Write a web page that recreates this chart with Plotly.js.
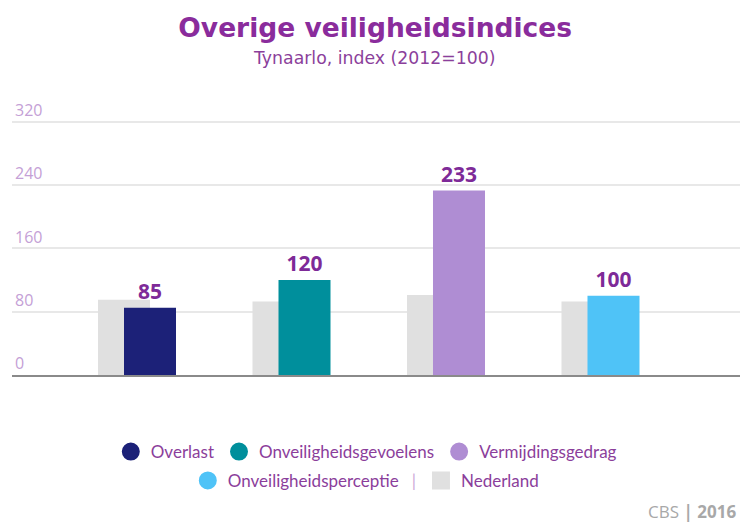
<!DOCTYPE html>
<html>
<head>
<meta charset="utf-8">
<script src="https://cdn.plot.ly/plotly-3.0.1.min.js"></script>
<style>html,body{margin:0;padding:0;background:#fff;}</style>
</head>
<body>
<div id="chart" style="width:740px;height:525px;"></div>
<script>
// ---- data ----
var categories = ['Overlast', 'Onveiligheidsgevoelens', 'Vermijdingsgedrag', 'Onveiligheidsperceptie'];
var tynaarloValues = [85, 120, 233, 100];
var nederlandValues = [95, 93, 101, 93];
var seriesColors = ['#1c2178', '#008f9c', '#af8dd3', '#4fc3f7'];
var nederlandLabel = 'Nederland';
var yTicks = [0, 80, 160, 240, 320];

// ---- style ----
var purpleText = '#8b3e9b';
var labelPurple = '#7e2a98';
var barWidth = 0.3366;
var greyOffset = -0.2524;
var colorOffset = -0.0841;

var traces = [];
// Nederland (grey) bars behind
traces.push({
  type: 'bar',
  x: categories,
  y: nederlandValues,
  width: barWidth,
  offset: greyOffset,
  marker: {color: '#e0e0e0'},
  showlegend: false,
  hoverinfo: 'skip'
});
// Tynaarlo coloured bars
categories.forEach(function (c, i) {
  traces.push({
    type: 'bar',
    x: [c],
    y: [tynaarloValues[i]],
    width: barWidth,
    offset: colorOffset,
    marker: {color: seriesColors[i]},
    text: [String(tynaarloValues[i])],
    textposition: 'outside',
    textfont: {family: 'Open Sans', size: 21, color: labelPurple, weight: 'bold'},
    cliponaxis: false,
    showlegend: false,
    hoverinfo: 'skip'
  });
});
// Legend entries (circles / square)
categories.forEach(function (c, i) {
  var name = c;
  if (i === 3) name = c + '<span style="color:#cba7d8">\u00a0\u00a0\u00a0|</span>';
  traces.push({
    type: 'scatter', mode: 'markers',
    x: [null], y: [null],
    name: name,
    marker: {symbol: 'circle', size: 16, color: seriesColors[i], line: {width: 2, color: seriesColors[i]}},
    legend: i < 3 ? 'legend' : 'legend2',
    hoverinfo: 'skip'
  });
});
traces.push({
  type: 'scatter', mode: 'markers',
  x: [null], y: [null],
  name: nederlandLabel,
  marker: {symbol: 'square', size: 16, color: '#e0e0e0', line: {width: 2, color: '#e0e0e0'}},
  legend: 'legend2',
  hoverinfo: 'skip'
});

var legendFont = {family: 'Lato', size: 17, color: purpleText};

var layout = {
  width: 740,
  height: 525,
  margin: {l: 12, r: 0, t: 90, b: 150},
  paper_bgcolor: '#ffffff',
  plot_bgcolor: '#ffffff',
  barmode: 'overlay',
  title: {
    text: '<b>Overige veiligheidsindices</b>',
    font: {family: 'DejaVu Sans', size: 26.5, color: '#8a2c9c'},
    x: 0.507, xref: 'container', xanchor: 'center',
    y: 0.948, yref: 'container', yanchor: 'middle'
  },
  xaxis: {
    type: 'category',
    range: [-0.809, 3.903],
    showticklabels: false,
    showgrid: false,
    zeroline: false,
    showline: true,
    linecolor: '#8a8a8a',
    linewidth: 2,
    ticks: ''
  },
  yaxis: {
    range: [0, 360],
    tickvals: yTicks,
    ticktext: yTicks.map(String),
    ticklabelposition: 'inside top',
    tickfont: {family: 'Open Sans', size: 16, color: '#c4a0d6'},
    showgrid: true,
    gridcolor: '#e8e8e8',
    gridwidth: 2,
    zeroline: false,
    showline: false,
    ticks: ''
  },
  showlegend: true,
  legend: {
    orientation: 'h',
    xref: 'container', yref: 'container',
    x: 0.495, xanchor: 'center',
    y: 0.139, yanchor: 'middle',
    font: legendFont,
    bgcolor: 'rgba(0,0,0,0)'
  },
  legend2: {
    orientation: 'h',
    xref: 'container', yref: 'container',
    x: 0.495, xanchor: 'center',
    y: 0.084, yanchor: 'middle',
    font: legendFont,
    bgcolor: 'rgba(0,0,0,0)'
  },
  annotations: [
    {
      text: 'Tynaarlo, index (2012=100)',
      xref: 'paper', yref: 'paper',
      x: 0.497, y: 1.112,
      xanchor: 'center', yanchor: 'middle',
      showarrow: false,
      font: {family: 'DejaVu Sans', size: 17.3, color: '#8b3f9b'}
    },
    {
      text: 'CBS <b>| 2016</b>',
      xref: 'paper', yref: 'paper',
      x: 1, y: -0.4807,
      xanchor: 'right', yanchor: 'middle',
      xshift: -2,
      showarrow: false,
      font: {family: 'Open Sans', size: 17, color: '#a8a8a8'}
    }
  ]
};

Plotly.newPlot('chart', traces, layout, {staticPlot: true, displayModeBar: false});
</script>
</body>
</html>
